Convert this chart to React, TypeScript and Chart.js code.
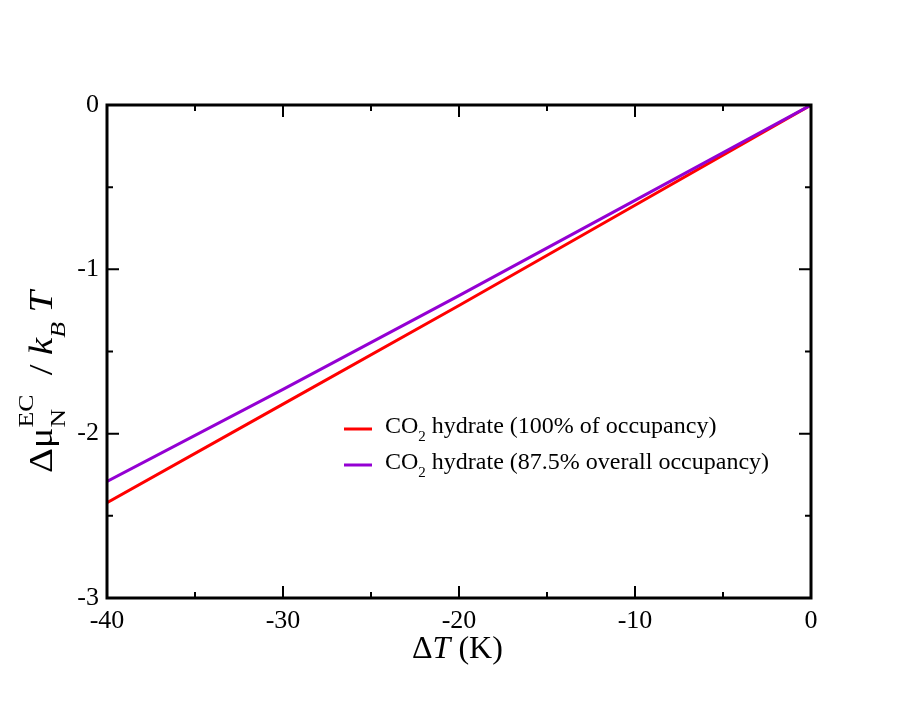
import { useEffect, useRef } from "react";
import { Chart, registerables } from "chart.js";

Chart.register(...registerables);
Chart.defaults.font.family = '"Liberation Serif", "Times New Roman", serif';
Chart.defaults.color = "#000";

// data
const deltaT = [-40, -30, -20, -10, 0];
const muFull = [-2.42, -1.82, -1.22, -0.61, 0];
const muPartial = [-2.29, -1.73, -1.16, -0.58, 0];
const seriesNames = [
  "CO_2 hydrate (100% of occupancy)",
  "CO_2 hydrate (87.5% overall occupancy)",
];
const seriesColors = ["#ff0000", "#9400d3"];

const xRange = [-40, 0];
const yRange = [-3, 0];

type Piece = { t: string; size: number; italic?: boolean; dy?: number; stack?: boolean };

const serif = '"Liberation Serif", "Times New Roman", serif';

// draws text made of pieces (sub/superscripts), returns width
function drawRich(ctx: CanvasRenderingContext2D, pieces: Piece[], x: number, y: number) {
  let cx = x;
  let stackW = 0;
  for (const p of pieces) {
    ctx.font = `${p.italic ? "italic " : ""}${p.size}px ${serif}`;
    ctx.fillText(p.t, cx, y + (p.dy ?? 0));
    const w = ctx.measureText(p.t).width;
    if (p.stack) {
      stackW = Math.max(stackW, w);
    } else {
      cx += Math.max(w, stackW);
      stackW = 0;
    }
  }
  return cx - x;
}

// "CO_2 hydrate" -> CO, subscript 2, rest
function legendPieces(name: string): Piece[] {
  const i = name.indexOf("_");
  return [
    { t: name.slice(0, i), size: 24 },
    { t: name.slice(i + 1, i + 2), size: 15, dy: 8 },
    { t: name.slice(i + 2), size: 24 },
  ];
}

const framePlugin = {
  id: "frame",
  afterDatasetsDraw(chart: Chart) {
    const ctx = chart.ctx;
    const { left, right, top, bottom } = chart.chartArea;
    const xs = chart.scales.x;
    const ys = chart.scales.y;
    ctx.save();
    ctx.strokeStyle = "#000";
    ctx.fillStyle = "#000";

    // ticks on all four sides, pointing in
    ctx.lineWidth = 2;
    ctx.beginPath();
    for (let v = xRange[0]; v <= xRange[1]; v += 5) {
      const px = xs.getPixelForValue(v);
      const len = v % 10 === 0 ? 12 : 6;
      ctx.moveTo(px, bottom);
      ctx.lineTo(px, bottom - len);
      ctx.moveTo(px, top);
      ctx.lineTo(px, top + len);
    }
    for (let v = yRange[0]; v <= yRange[1] + 1e-9; v += 0.5) {
      const py = ys.getPixelForValue(v);
      const len = Math.abs(v % 1) < 1e-9 ? 12 : 6;
      ctx.moveTo(left, py);
      ctx.lineTo(left + len, py);
      ctx.moveTo(right, py);
      ctx.lineTo(right - len, py);
    }
    ctx.stroke();

    // frame
    ctx.lineWidth = 3;
    ctx.strokeRect(left, top, right - left, bottom - top);

    // legend
    ctx.textAlign = "left";
    ctx.textBaseline = "alphabetic";
    seriesNames.forEach((name, i) => {
      const y = 429 + i * 36;
      ctx.strokeStyle = seriesColors[i];
      ctx.lineWidth = 3;
      ctx.beginPath();
      ctx.moveTo(344, y);
      ctx.lineTo(372, y);
      ctx.stroke();
      drawRich(ctx, legendPieces(name), 385, y + 4);
    });

    // x title
    drawRich(
      ctx,
      [
        { t: "Δ", size: 32 },
        { t: "T", size: 32, italic: true },
        { t: " (K)", size: 32 },
      ],
      412,
      658
    );

    // y title, rotated (the reference font runs wider, so stretch along the text)
    ctx.translate(52, 473);
    ctx.rotate(-Math.PI / 2);
    ctx.scale(1.17, 1);
    drawRich(
      ctx,
      [
        { t: "Δμ", size: 33 },
        { t: "N", size: 22, dy: 13, stack: true },
        { t: "EC", size: 22, dy: -19 },
        { t: "  / ", size: 33 },
        { t: "k", size: 33, italic: true },
        { t: "B", size: 22, italic: true, dy: 13 },
        { t: " T", size: 33, italic: true },
      ],
      0,
      0
    );
    ctx.restore();
  },
};

export default function App() {
  const canvasRef = useRef<HTMLCanvasElement | null>(null);

  useEffect(() => {
    document.body.style.margin = "0";
    const canvas = canvasRef.current;
    if (!canvas) return;

    const chart = new Chart(canvas, {
      type: "line",
      data: {
        labels: deltaT,
        datasets: [
          {
            label: seriesNames[0],
            data: deltaT.map((x, i) => ({ x, y: muFull[i] })),
            borderColor: seriesColors[0],
            borderWidth: 3,
            pointRadius: 0,
            fill: false,
            order: 2,
          },
          {
            label: seriesNames[1],
            data: deltaT.map((x, i) => ({ x, y: muPartial[i] })),
            borderColor: seriesColors[1],
            borderWidth: 3,
            pointRadius: 0,
            fill: false,
            order: 1,
          },
        ],
      },
      options: {
        animation: false,
        responsive: true,
        maintainAspectRatio: false,
        layout: { padding: { top: 105, right: 102, left: 0, bottom: 0 } },
        plugins: { legend: { display: false }, tooltip: { enabled: false } },
        scales: {
          x: {
            type: "linear",
            min: xRange[0],
            max: xRange[1],
            grid: { display: false },
            border: { display: false },
            ticks: { stepSize: 10, font: { size: 26 }, padding: 0, color: "#000" },
            afterFit: (scale) => {
              scale.height = 108;
            },
          },
          y: {
            type: "linear",
            min: yRange[0],
            max: yRange[1],
            grid: { display: false },
            border: { display: false },
            ticks: { stepSize: 1, font: { size: 26 }, padding: 0, color: "#000" },
            afterFit: (scale) => {
              scale.width = 107;
            },
          },
        },
      },
      plugins: [framePlugin],
    });

    return () => chart.destroy();
  }, []);

  return (
    <div style={{ width: 913, height: 706, position: "relative", background: "#fff" }}>
      <canvas ref={canvasRef} />
    </div>
  );
}
